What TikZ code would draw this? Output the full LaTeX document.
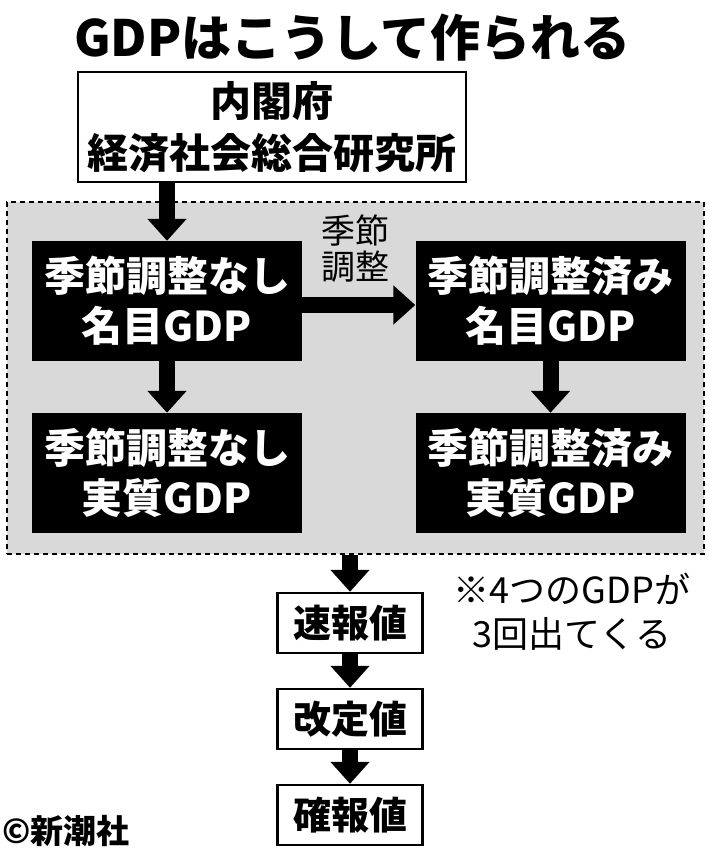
\documentclass[tikz,border=0pt]{standalone}
\usepackage{fontspec}
\setmainfont{Noto Sans CJK JP}
\usetikzlibrary{arrows.meta}
\definecolor{panelgray}{HTML}{D9D9D9}
\tikzset{
  blackbox/.style={fill=black,draw=none,text=white,font=\bfseries\fontsize{41}{50}\selectfont,align=center,minimum width=270pt,minimum height=120pt,inner sep=0pt},
  whitebox/.style={fill=white,draw=black,line width=2.5pt,font=\bfseries\fontsize{38}{46}\selectfont,minimum width=145pt,minimum height=60pt,inner sep=0pt},
  bigarrow/.style={line width=16pt,-{Triangle[width=38pt 0 0,length=22pt 0 0]}},
}
\begin{document}
\begin{tikzpicture}[x=1pt,y=-1pt]
\useasboundingbox (0,0) rectangle (714,853);
\fill[white] (0,0) rectangle (714,853);
% title
\node[font=\bfseries\fontsize{50}{58}\selectfont,inner sep=0pt] (title) at (352,38) {GDPはこうして作られる};
% top box
\node[draw=black,line width=2.5pt,fill=white,minimum width=388pt,minimum height=110pt,inner sep=0pt,align=center,font=\bfseries\fontsize{41}{52}\selectfont] (top) at (272,127) {内閣府\\経済社会総合研究所};
% gray region
\node[fill=panelgray,draw=black,dash pattern=on 5pt off 4pt,line width=2pt,minimum width=697pt,minimum height=352pt,inner sep=0pt] (region) at (355.5,378) {};
% black boxes
\node[blackbox] (b1) at (167,301) {季節調整なし\\名目GDP};
\node[blackbox] (b2) at (550.5,301) {季節調整済み\\名目GDP};
\node[blackbox] (b3) at (167,473) {季節調整なし\\実質GDP};
\node[blackbox] (b4) at (550.5,473) {季節調整済み\\実質GDP};
% label
\node[font=\fontsize{34}{36}\selectfont,align=center,inner sep=0pt] (adj) at (355,249) {季節\\調整};
% bottom boxes
\node[whitebox] (s1) at (350,623) {速報値};
\node[whitebox] (s2) at (350,719) {改定値};
\node[whitebox] (s3) at (350,815) {確報値};
% note
\node[font=\fontsize{36}{44}\selectfont,align=center,inner sep=0pt] (note) at (572,612) {※4つのGDPが\\3回出てくる};
% credit
\node[font=\bfseries\fontsize{33}{36}\selectfont,anchor=west,inner sep=0pt] (credit) at (2,831) {©新潮社};
% arrows
\draw[bigarrow] (top.south -| b1.north) -- (b1.north);
\draw[bigarrow] ([yshift=-4pt]b1.east) -- ([yshift=-4pt]b2.west);
\draw[bigarrow] (b1.south) -- (b3.north);
\draw[bigarrow] (b2.south) -- (b4.north);
\draw[bigarrow] (region.south -| s1.north) -- (s1.north);
\draw[bigarrow] (s1.south) -- (s2.north);
\draw[bigarrow] (s2.south) -- (s3.north);
\end{tikzpicture}
\end{document}
